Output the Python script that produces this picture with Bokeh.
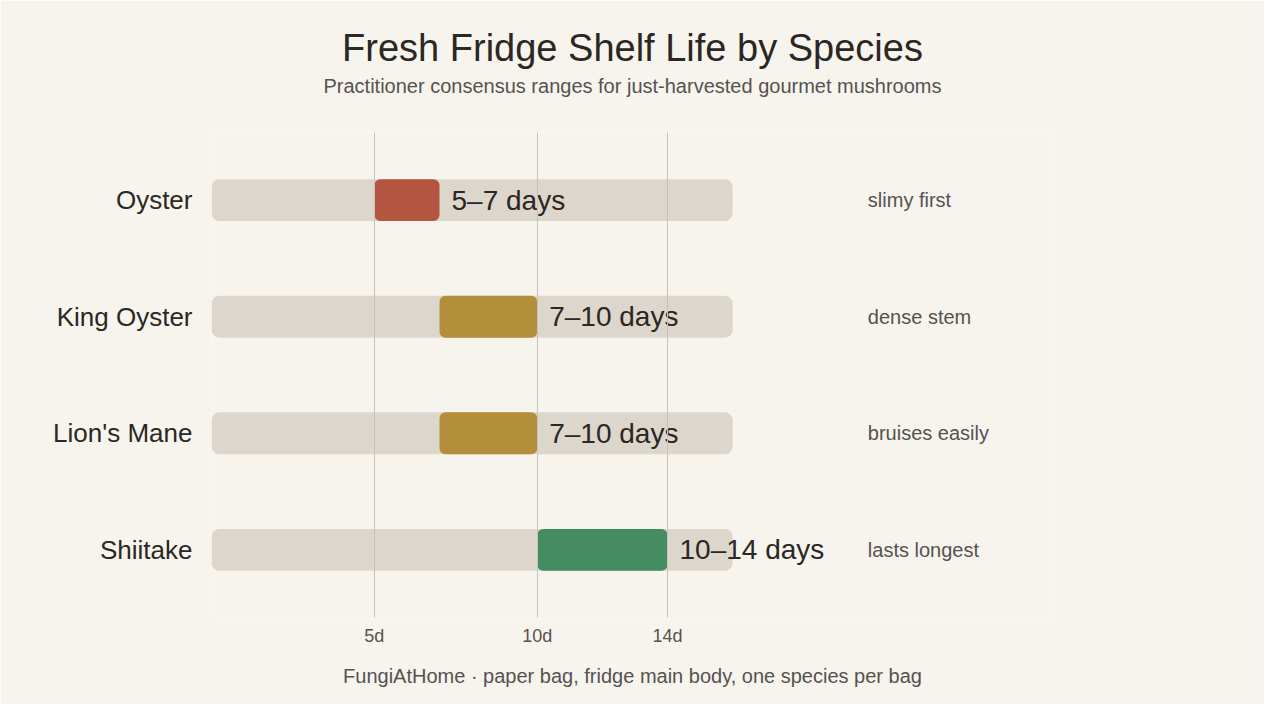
from bokeh.plotting import figure
from bokeh.models import ColumnDataSource, Range1d, FactorRange, FixedTicker, Title
from bokeh.embed import file_html
from bokeh.resources import INLINE
from bokeh.core.properties import value

species = ["Oyster", "King Oyster", "Lion's Mane", "Shiitake"]
low_days = [5, 7, 7, 10]
high_days = [7, 10, 10, 14]
range_labels = ["5–7 days", "7–10 days", "7–10 days", "10–14 days"]
notes = ["slimy first", "dense stem", "bruises easily", "lasts longest"]
colors = ["#b35540", "#b48f3b", "#b48f3b", "#468c62"]
track_max = 16
tick_days = [5, 10, 14]
tick_labels = {5: "5d", 10: "10d", 14: "14d"}

FONT = "Liberation Sans"
BG = "#f7f4ee"
DARK = "#2b2723"
GREY = "#555250"

src = ColumnDataSource(dict(
    species=species, low=low_days, high=high_days, label=range_labels,
    note=notes, color=colors, zero=[0] * len(species),
    track=[track_max] * len(species),
    note_x=[20.15] * len(species),
))

p = figure(width=1264, height=704, output_backend="svg", toolbar_location=None,
           x_range=Range1d(0, 25.85),
           y_range=FactorRange(*reversed(species), range_padding=0.04),
           background_fill_color=BG, border_fill_color=BG, outline_line_color=None,
           min_border_left=211, min_border_right=211, min_border_top=132,
           min_border_bottom=87)

p.hbar(y="species", left="zero", right="track", height=0.36, source=src,
       fill_color="#ddd6cc", line_color=None, border_radius=8)
p.hbar(y="species", left="low", right="high", height=0.36, source=src,
       fill_color="color", line_color=None, border_radius=6)
p.text(x="high", y="species", text="label", source=src, x_offset=12,
       text_baseline="middle", text_align="left", text_font=value(FONT),
       text_font_size="28px", text_color=DARK)
p.text(x="note_x", y="species", text="note", source=src,
       text_baseline="middle", text_align="left", text_font=value(FONT),
       text_font_size="20px", text_color=GREY)

p.ygrid.grid_line_color = None
p.xgrid.ticker = FixedTicker(ticks=tick_days)
p.xgrid.grid_line_color = "#c7c3bb"
p.xgrid.grid_line_width = 1
p.xgrid.level = "overlay"

p.xaxis.ticker = FixedTicker(ticks=tick_days)
p.xaxis.major_label_overrides = tick_labels
p.xaxis.axis_line_color = None
p.xaxis.major_tick_line_color = None
p.xaxis.minor_tick_line_color = None
p.xaxis.major_label_text_font = FONT
p.xaxis.major_label_text_font_size = "18px"
p.xaxis.major_label_text_color = GREY
p.xaxis.major_label_standoff = 2

p.yaxis.axis_line_color = None
p.yaxis.major_tick_line_color = None
p.yaxis.minor_tick_line_color = None
p.yaxis.major_label_text_font = FONT
p.yaxis.major_label_text_font_size = "26px"
p.yaxis.major_label_text_color = DARK
p.yaxis.major_label_standoff = 13

p.title.text = "Fresh Fridge Shelf Life by Species"
p.title.align = "center"
p.title.text_font = FONT
p.title.text_font_size = "38px"
p.title.text_font_style = "normal"
p.title.text_color = DARK
p.title.standoff = 8

spacer = Title(text=" ", align="center", text_font=FONT, text_font_size="20px",
               text_color=BG, standoff=12)
p.add_layout(spacer, "above")

sub = Title(text="Practitioner consensus ranges for just-harvested gourmet mushrooms",
            align="center", text_font=FONT, text_font_size="20px",
            text_font_style="normal", text_color=GREY, standoff=0)
p.add_layout(sub, "above")

footer = Title(text="FungiAtHome · paper bag, fridge main body, one species per bag",
               align="center", text_font=FONT, text_font_size="20px",
               text_font_style="normal", text_color=GREY, standoff=29)
p.add_layout(footer, "below")

open("out.html", "w").write(file_html(p, INLINE))
